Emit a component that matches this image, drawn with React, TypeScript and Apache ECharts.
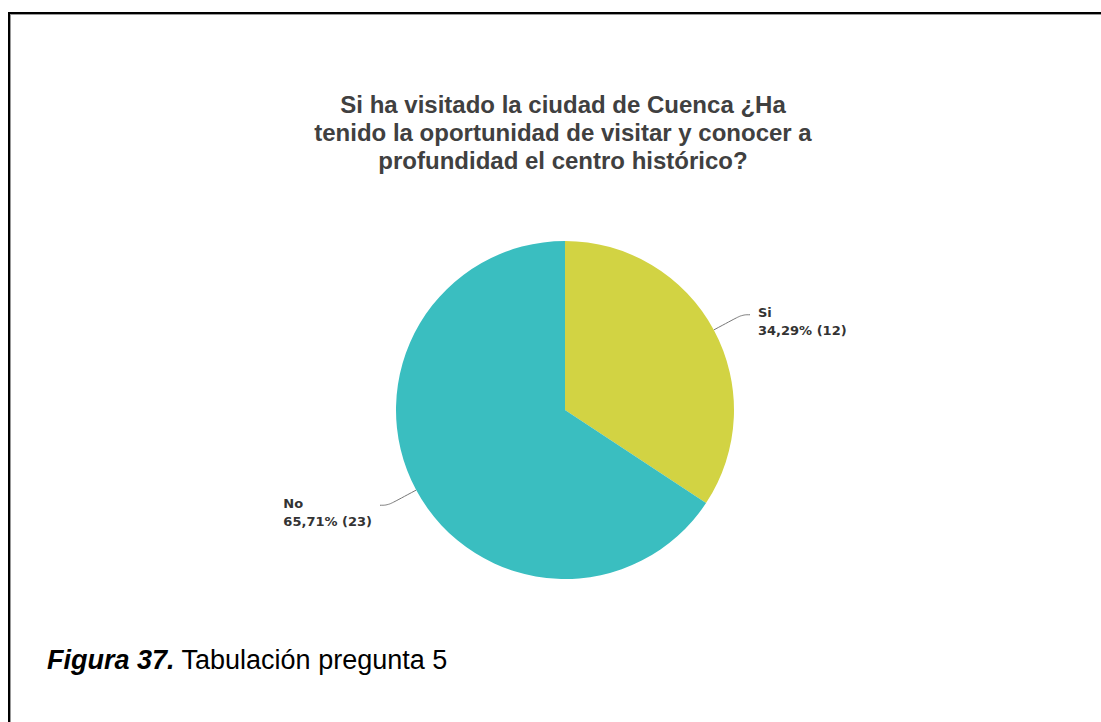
import React, { useEffect, useRef } from "react";
import * as echarts from "echarts";

const titleLines = [
  "Si ha visitado la ciudad de Cuenca ¿Ha",
  "tenido la oportunidad de visitar y conocer a",
  "profundidad el centro histórico?",
];
const categories = ["Si", "No"];
const counts = [12, 23];
const colors = ["#D2D343", "#3ABEC0"];
const captionBold = "Figura 37.";
const captionText = " Tabulación pregunta 5";

export default function App() {
  const ref = useRef<HTMLDivElement>(null);
  useEffect(() => {
    if (!ref.current) return;
    const chart = echarts.init(ref.current, null, { renderer: "svg" });
    chart.setOption({
      animation: false,
      backgroundColor: "#ffffff",
      title: {
        text: titleLines.join("\n"),
        left: 563,
        top: 90,
        padding: 0,
        textAlign: "center",
        textStyle: {
          fontFamily: "Liberation Sans, Arial, sans-serif",
          fontSize: 24,
          fontWeight: "bold",
          color: "#404040",
          lineHeight: 28,
        },
      },
      series: [
        {
          type: "pie",
          center: [565, 410],
          radius: [0, 169],
          startAngle: 90,
          clockwise: true,
          silent: true,
          data: categories.map((c, i) => ({
            name: c,
            value: counts[i],
            itemStyle: { color: colors[i] },
          })),
          label: {
            show: true,
            position: "outside",
            distanceToLabelLine: 8,
            padding: [14, 0, 0, 0],
            formatter: (p: any) =>
              `{n|${p.name}}\n{v|${p.percent.toFixed(2).replace(".", ",")}% (${p.value})}`,
            rich: {
              n: {
                fontFamily: "DejaVu Sans, sans-serif",
                fontSize: 13,
                fontWeight: "bold",
                color: "#333333",
                lineHeight: 18,
                align: "left",
              },
              v: {
                fontFamily: "DejaVu Sans, sans-serif",
                fontSize: 13,
                fontWeight: "bold",
                color: "#333333",
                lineHeight: 18,
                align: "left",
              },
            },
          },
          labelLine: {
            show: true,
            length: 32,
            length2: 8,
            smooth: 0.4,
            lineStyle: { color: "#777777", width: 1 },
          },
        },
      ],
      graphic: [
        { type: "rect", shape: { x: 8, y: 12, width: 1093, height: 2 }, style: { fill: "#000000" }, silent: true },
        { type: "rect", shape: { x: 10, y: 14, width: 1091, height: 1 }, style: { fill: "#999999" }, silent: true },
        { type: "rect", shape: { x: 8, y: 12, width: 2, height: 710 }, style: { fill: "#000000" }, silent: true },
        { type: "rect", shape: { x: 10, y: 14, width: 1, height: 708 }, style: { fill: "#999999" }, silent: true },
        {
          type: "text",
          x: 47,
          y: 660,
          silent: true,
          style: {
            text: `{b|${captionBold}}{r|${captionText}}`,
            verticalAlign: "middle",
            rich: {
              b: {
                fontFamily: "Liberation Sans, Arial, sans-serif",
                fontSize: 27,
                fontWeight: "bold",
                fontStyle: "italic",
                fill: "#000000",
              },
              r: {
                fontFamily: "Liberation Sans, Arial, sans-serif",
                fontSize: 27,
                fill: "#000000",
              },
            },
          },
        },
      ],
    });
    return () => chart.dispose();
  }, []);
  return (
    <div
      ref={ref}
      style={{ position: "absolute", left: 0, top: 0, width: 1101, height: 722 }}
    />
  );
}
